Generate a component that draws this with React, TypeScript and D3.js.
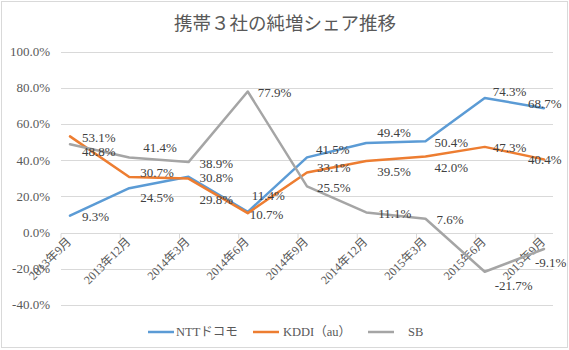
import React, { useEffect, useRef } from "react";
import * as d3 from "d3";

const categories = [
  "2013年9月", "2013年12月", "2014年3月", "2014年6月", "2014年9月",
  "2014年12月", "2015年3月", "2015年6月", "2015年9月",
];
const ntt = [9.3, 24.5, 30.8, 11.4, 41.5, 49.4, 50.4, 74.3, 68.7];
const kddi = [53.1, 30.7, 29.8, 10.7, 33.1, 39.5, 42.0, 47.3, 40.4];
const sb = [48.8, 41.4, 38.9, 77.9, 25.5, 11.1, 7.6, -21.7, -9.1];
const yTicks = [100, 80, 60, 40, 20, 0, -20, -40];

const series = [
  { name: "NTTドコモ", values: ntt, color: "#5B9BD5" },
  { name: "KDDI（au）", values: kddi, color: "#ED7D31" },
  { name: "SB", values: sb, color: "#A5A5A5" },
];

// label nudges [dx, dy] (hand placed in the original chart)
const labelNudge = [
  [[12, 1], [11, 9], [11, 1], [4, -16], [9, -8], [11, -11], [9, 1], [8, -7], [-16, -5]],
  [[12, 1], [11, -4], [11, 21], [2, 1], [10, -5], [11, 10], [9, 11], [8, 1], [-16, 0]],
  [[12, 7], [14, -10], [11, 1], [10, 1], [10, 1], [12, 1], [11, 1], [10, 14], [-9, 13]],
];

const FONT = "'Liberation Serif', 'Times New Roman', 'Noto Sans CJK JP', serif";
const pct = (d: number) => d.toFixed(1) + "%";

const App = () => {
  const ref = useRef<SVGSVGElement>(null);

  useEffect(() => {
    const width = 569;
    const height = 350;
    const svg = d3.select(ref.current);
    svg.selectAll("*").remove();

    const x = d3.scalePoint().domain(categories).range([70, 544]);
    const y = d3.scaleLinear().domain([-40, 100]).range([304.9, 51.5]);

    // chart border
    svg.append("rect")
      .attr("x", 1.5).attr("y", 1.5)
      .attr("width", width - 3).attr("height", height - 4)
      .attr("fill", "#fff").attr("stroke", "#d9d9d9");

    // title
    svg.append("text")
      .attr("x", 285).attr("y", 30)
      .attr("text-anchor", "middle")
      .style("font-family", FONT)
      .style("font-size", "18.5px")
      .attr("fill", "#595959")
      .text("携帯３社の純増シェア推移");

    // gridlines
    svg.append("g")
      .selectAll("line")
      .data(yTicks)
      .join("line")
      .attr("x1", 61).attr("x2", 553)
      .attr("y1", (d) => Math.round(y(d)) + 0.5)
      .attr("y2", (d) => Math.round(y(d)) + 0.5)
      .attr("stroke", "#d9d9d9");

    // y labels
    svg.append("g")
      .selectAll("text")
      .data(yTicks)
      .join("text")
      .attr("x", 50)
      .attr("y", (d) => y(d))
      .attr("dy", "0.35em")
      .attr("text-anchor", "end")
      .style("font-family", FONT)
      .style("font-size", "13px")
      .attr("fill", "#595959")
      .text(pct);

    // x axis ticks (slightly left of the points, as in the original)
    const y0 = Math.round(y(0)) + 0.5;
    svg.append("g")
      .selectAll("line")
      .data(categories)
      .join("line")
      .attr("x1", (d) => (x(d) as number) - 9)
      .attr("x2", (d) => (x(d) as number) - 9)
      .attr("y1", y0).attr("y2", y0 + 5)
      .attr("stroke", "#d9d9d9");

    svg.append("g")
      .selectAll("text")
      .data(categories)
      .join("text")
      .attr("transform", (d) => `translate(${(x(d) as number) + 2},${y0 + 9}) rotate(-45)`)
      .attr("text-anchor", "end")
      .style("font-family", FONT)
      .style("font-size", "12px")
      .attr("fill", "#595959")
      .text((d) => d);

    // lines
    const line = d3.line<number>()
      .x((_, i) => x(categories[i]) as number)
      .y((d) => y(d));

    series.forEach((s) => {
      svg.append("path")
        .datum(s.values)
        .attr("d", line)
        .attr("fill", "none")
        .attr("stroke", s.color)
        .attr("stroke-width", 2.5)
        .attr("stroke-linejoin", "round")
        .attr("stroke-linecap", "round");
    });

    // data labels
    series.forEach((s, si) => {
      svg.append("g")
        .selectAll("text")
        .data(s.values)
        .join("text")
        .attr("x", (_, i) => (x(categories[i]) as number) + labelNudge[si][i][0])
        .attr("y", (d, i) => y(d) + labelNudge[si][i][1])
        .attr("dy", "0.35em")
        .style("font-family", FONT)
        .style("font-size", "13px")
        .attr("fill", "#404040")
        .text(pct);
    });

    // legend
    const legendX = [148, 253, 368];
    const legendTextX = [176, 283, 408];
    const ly = 332;
    series.forEach((s, i) => {
      svg.append("line")
        .attr("x1", legendX[i]).attr("x2", legendX[i] + 26)
        .attr("y1", ly).attr("y2", ly)
        .attr("stroke", s.color)
        .attr("stroke-width", 2.5);
      svg.append("text")
        .attr("x", legendTextX[i]).attr("y", ly)
        .attr("dy", "0.35em")
        .style("font-family", FONT)
        .style("font-size", "12.5px")
        .attr("fill", "#595959")
        .text(s.name);
    });
  }, []);

  return (
    <svg
      ref={ref}
      width={569}
      height={350}
      style={{ position: "absolute", left: 0, top: 0 }}
    />
  );
};

export default App;
